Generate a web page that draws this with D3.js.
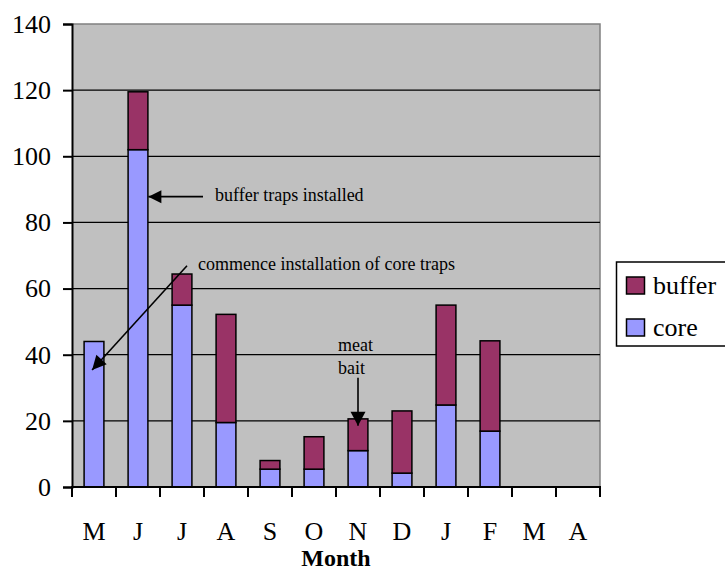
<!DOCTYPE html>
<html>
<head>
<meta charset="utf-8">
<script src="https://cdn.jsdelivr.net/npm/d3@7"></script>
<style>
  html, body { margin: 0; padding: 0; background: #fff; }
</style>
</head>
<body>
<svg id="chart" width="725" height="571"></svg>
<script>
const months = ["M", "J", "J", "A", "S", "O", "N", "D", "J", "F", "M", "A"];
const core   = [44, 102, 55, 19.5, 5.4, 5.4, 11, 4.2, 24.8, 16.9, null, null];
const buffer = [0, 17.5, 9.4, 32.7, 2.6, 9.8, 9.6, 18.8, 30.2, 27.3, null, null];
const yTicks = [0, 20, 40, 60, 80, 100, 120, 140];
const seriesNames = ["buffer", "core"];
const seriesColors = { buffer: "#993366", core: "#9999FF" };
const xTitle = "Month";
const FONT = "'Liberation Serif', 'Times New Roman', serif";

const svg = d3.select("#chart");
const pL = 72, pR = 600, pT = 24, pB = 487;

const x = d3.scaleBand().domain(d3.range(months.length)).range([pL, pR]).paddingInner(0.55).paddingOuter(0.275);
const xb = d3.scaleBand().domain(d3.range(months.length)).range([pL, pR]);
const y = d3.scaleLinear().domain([0, 140]).range([pB, pT]);

function txt(sel, size, weight) {
  return sel.style("font-family", FONT).style("font-size", size + "px")
    .style("font-weight", weight || "normal").attr("fill", "#000");
}

// plot background
svg.append("rect").attr("x", pL).attr("y", pT).attr("width", pR - pL).attr("height", pB - pT)
  .attr("fill", "#C0C0C0");
// top / right border (gray)
svg.append("path").attr("d", `M${pL},${pT}H${pR}V${pB}`).attr("fill", "none")
  .attr("stroke", "#808080").attr("stroke-width", 1.5);

// gridlines
svg.append("g").selectAll("line").data(yTicks.filter(d => d > 0 && d < 140)).join("line")
  .attr("x1", pL).attr("x2", pR).attr("y1", d => y(d)).attr("y2", d => y(d))
  .attr("stroke", "#000").attr("stroke-width", 1.3);

// bars
const rows = months.map((m, i) => ({ i, core: core[i], buffer: buffer[i] })).filter(d => d.core != null);
const stack = d3.stack().keys(["core", "buffer"])(rows);
stack.forEach(layer => {
  svg.append("g").selectAll("rect").data(layer.filter(d => d[1] - d[0] > 0)).join("rect")
    .attr("x", d => x(d.data.i)).attr("width", x.bandwidth())
    .attr("y", d => y(d[1])).attr("height", d => y(d[0]) - y(d[1]))
    .attr("fill", seriesColors[layer.key]).attr("stroke", "#000").attr("stroke-width", 1.5);
});

// y axis
const yAxis = d3.axisLeft(y).tickValues(yTicks).tickSize(9).tickPadding(12);
const gy = svg.append("g").attr("transform", `translate(${pL},0)`).call(yAxis);
gy.select(".domain").attr("stroke", "#000").attr("stroke-width", 2);
gy.selectAll(".tick line").attr("stroke", "#000").attr("stroke-width", 2);
txt(gy.selectAll(".tick text"), 26);

// x axis
const xAxis = d3.axisBottom(xb).tickSize(0).tickFormat(i => months[i]).tickPadding(35);
const gx = svg.append("g").attr("transform", `translate(0,${pB})`).call(xAxis);
gx.select(".domain").remove();
txt(gx.selectAll(".tick text"), 26);
svg.append("line").attr("x1", pL - 1).attr("x2", pR + 1).attr("y1", pB).attr("y2", pB)
  .attr("stroke", "#000").attr("stroke-width", 2);
const bounds = xb.domain().map(i => xb(i)).concat([pR]);
svg.append("g").selectAll("line").data(bounds).join("line")
  .attr("x1", d => d).attr("x2", d => d).attr("y1", pB).attr("y2", pB + 10)
  .attr("stroke", "#000").attr("stroke-width", 2);

// x title
txt(svg.append("text").attr("x", (pL + pR) / 2).attr("y", 566).attr("text-anchor", "middle"), 24, "bold").text(xTitle);

// arrows
function arrow(x1, y1, x2, y2, len, half) {
  svg.append("line").attr("x1", x1).attr("y1", y1).attr("x2", x2).attr("y2", y2)
    .attr("stroke", "#000").attr("stroke-width", 1.6);
  const a = Math.atan2(y2 - y1, x2 - x1);
  const bx = x2 - len * Math.cos(a), by = y2 - len * Math.sin(a);
  const px = -Math.sin(a) * half, py = Math.cos(a) * half;
  svg.append("path").attr("d", `M${x2},${y2}L${bx + px},${by + py}L${bx - px},${by - py}Z`).attr("fill", "#000");
}
// buffer traps installed
arrow(xb(1) + 87, y(87.8), x(1) + x.bandwidth() + 0.5, y(87.8), 13, 6.5);
txt(svg.append("text").attr("x", xb(1) + 99).attr("y", y(87.8) + 4), 18).text("buffer traps installed");
// commence installation of core traps
arrow(xb(2) + 27, y(66.9), x(0) + 8, y(35.4), 14, 7);
txt(svg.append("text").attr("x", xb(2) + 38).attr("y", y(66.9) + 4), 18).text("commence installation of core traps");
// meat bait
arrow(xb(6) + 22, y(33), xb(6) + 22, y(18.5), 14, 7.5);
txt(svg.append("text").attr("x", xb(6) + 2).attr("y", y(41.2)), 18).text("meat");
txt(svg.append("text").attr("x", xb(6) + 2).attr("y", y(34.3)), 18).text("bait");

// legend
const lg = svg.append("g");
lg.append("rect").attr("x", 616.5).attr("y", 262).attr("width", 120).attr("height", 84)
  .attr("fill", "#fff").attr("stroke", "#000").attr("stroke-width", 1.5);
seriesNames.forEach((s, k) => {
  lg.append("rect").attr("x", 626.5).attr("y", 277 + k * 42).attr("width", 18).attr("height", 17)
    .attr("fill", seriesColors[s]).attr("stroke", "#000").attr("stroke-width", 1.5);
  txt(lg.append("text").attr("x", 653).attr("y", 294 + k * 42), 26).text(s);
});
</script>
</body>
</html>
